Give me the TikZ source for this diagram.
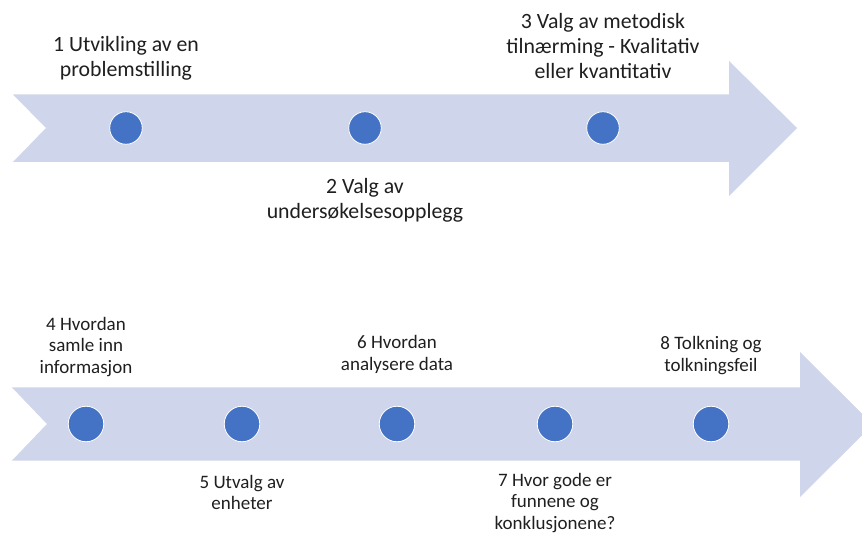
\documentclass[tikz,border=0pt]{standalone}
\usepackage{fontspec}
\setmainfont{Carlito}
\definecolor{band}{HTML}{CFD5EA}
\definecolor{dot}{HTML}{4472C4}
\definecolor{ink}{HTML}{1F1F1F}

\begin{document}
\begin{tikzpicture}[x=1pt,y=-1pt,
  dotbase/.style={circle,fill=dot,draw=white,line width=0.8pt,inner sep=0pt},
  topdot/.style={dotbase,minimum size=32.5pt},
  botdot/.style={dotbase,minimum size=35.5pt},
  lbl/.style={align=center,text=ink,inner sep=0pt},
  toplabel/.style={lbl,font=\fontsize{21.8}{24.8}\selectfont},
  botlabel/.style={lbl,font=\fontsize{19}{21.5}\selectfont}]
\useasboundingbox (0,0) rectangle (862,534);
\clip (0,0) rectangle (862,534);

% upper timeline band
\fill[band] (13,94.5) -- (729,94.5) -- (729,61) -- (797,128) -- (729,196)
  -- (729,162) -- (13,162) -- (46,128) -- cycle;
% lower timeline band
\fill[band] (12,387.5) -- (800,387.5) -- (800,352) -- (873,424.5) -- (800,497)
  -- (800,460.5) -- (12,460.5) -- (47,424) -- cycle;

% upper milestones
\node[topdot] (d1) at (126,128) {};
\node[topdot] (d2) at (365,128) {};
\node[topdot] (d3) at (603,128) {};
\node[toplabel] (t1) at (126,58) {1 Utvikling av en\\problemstilling};
\node[toplabel] (t2) at (365,200) {2 Valg av\\undersøkelsesopplegg};
\node[toplabel] (t3) at (603,46) {3 Valg av metodisk\\tilnærming - Kvalitativ\\eller kvantitativ};

% lower milestones
\node[botdot] (d4) at (86,424) {};
\node[botdot] (d5) at (242,424) {};
\node[botdot] (d6) at (397,424) {};
\node[botdot] (d7) at (555,424) {};
\node[botdot] (d8) at (711,424) {};
\node[botlabel] (t4) at (86,347) {4 Hvordan\\samle inn\\informasjon};
\node[botlabel] (t5) at (242,492.5) {5 Utvalg av\\enheter};
\node[botlabel] (t6) at (397,354.5) {6 Hvordan\\analysere data};
\node[botlabel] (t7) at (555,503) {7 Hvor gode er\\funnene og\\konklusjonene?};
\node[botlabel] (t8) at (711,355.5) {8 Tolkning og\\tolkningsfeil};
\end{tikzpicture}
\end{document}
